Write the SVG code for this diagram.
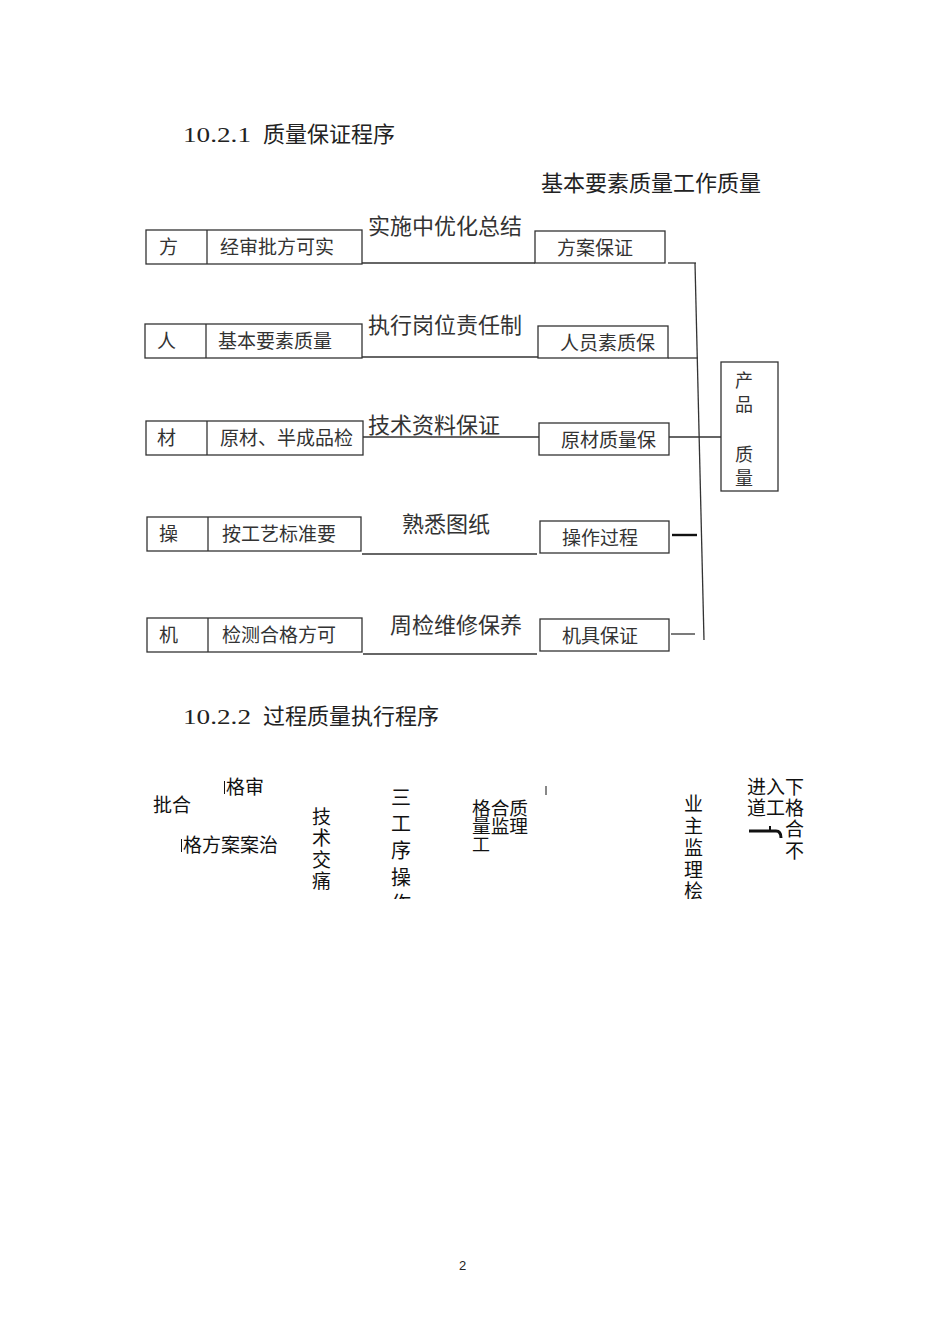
<svg xmlns="http://www.w3.org/2000/svg" width="950" height="1344" viewBox="0 0 950 1344">
<style>
.bg{fill:#ffffff}
.box{fill:#ffffff;stroke:#333333;stroke-width:1.3}
.ln{fill:none;stroke:#333333;stroke-width:1.3}
.thk{fill:none;stroke:#111111;stroke-width:2.4}
.t{font-family:"Liberation Serif","Noto Sans CJK SC",serif;fill:#333333}
.s19{font-size:19px}
.s22{font-size:22px}
.s18{font-size:18px}
.h{font-family:"Liberation Serif","Noto Sans CJK SC",serif;font-size:22px;fill:#222222}
.g{font-family:"Liberation Sans","Noto Sans CJK SC",sans-serif;font-size:19px;fill:#111111}
.g18{font-family:"Liberation Sans","Noto Sans CJK SC",sans-serif;font-size:18px;fill:#111111}
.pn{font-family:"Liberation Sans",sans-serif;font-size:13px;fill:#222222}
</style>
<defs>
<clipPath id="clipLow"><rect x="0" y="740" width="950" height="159"/></clipPath>
</defs>
<rect class="bg" x="0" y="0" width="950" height="1344"/>

<g id="heading1">
<text class="h" x="183" y="142" textLength="68" lengthAdjust="spacingAndGlyphs">10.2.1</text>
<text class="h" x="263" y="142">质量保证程序</text>
</g>
<g id="header-right">
<text class="h" x="541" y="191">基本要素质量工作质量</text>
</g>

<g id="connectors">
<line class="ln" x1="362" y1="263" x2="535" y2="263"/>
<line class="ln" x1="668" y1="263" x2="696" y2="263"/>
<line class="ln" x1="695" y1="263" x2="704" y2="640"/>
<line class="ln" x1="362" y1="357" x2="538" y2="357"/>
<line class="ln" x1="668" y1="358" x2="698" y2="358"/>
<line class="ln" x1="363" y1="437" x2="539" y2="437"/>
<line class="ln" x1="669" y1="437" x2="721" y2="437"/>
<line class="ln" x1="362" y1="554" x2="537" y2="554"/>
<line class="thk" x1="672" y1="535" x2="697" y2="535"/>
<line class="ln" x1="363" y1="654" x2="537" y2="654"/>
<line class="ln" x1="671" y1="634" x2="695" y2="634"/>
</g>

<g id="row1-left">
<rect class="box" x="146" y="230" width="216" height="34"/>
<line class="ln" x1="207" y1="230" x2="207" y2="264"/>
<text class="t s19" x="159" y="254">方</text>
<text class="t s19" x="220" y="254">经审批方可实</text>
</g>
<g id="row1-label"><text class="t s22" x="368" y="234">实施中优化总结</text></g>
<g id="row1-right">
<rect class="box" x="535" y="231" width="130" height="32"/>
<text class="t s19" x="557" y="255">方案保证</text>
</g>

<g id="row2-left">
<rect class="box" x="145" y="324" width="217" height="34"/>
<line class="ln" x1="206" y1="324" x2="206" y2="358"/>
<text class="t s19" x="157" y="348">人</text>
<text class="t s19" x="218" y="348">基本要素质量</text>
</g>
<g id="row2-label"><text class="t s22" x="368" y="333">执行岗位责任制</text></g>
<g id="row2-right">
<rect class="box" x="538" y="326" width="130" height="32"/>
<text class="t s19" x="560" y="350">人员素质保</text>
</g>

<g id="row3-left">
<rect class="box" x="146" y="421" width="217" height="34"/>
<line class="ln" x1="207" y1="421" x2="207" y2="455"/>
<text class="t s19" x="157" y="445">材</text>
<text class="t s19" x="220" y="445">原材、半成品检</text>
</g>
<g id="row3-label"><text class="t s22" x="368" y="433">技术资料保证</text></g>
<g id="row3-right">
<rect class="box" x="539" y="423" width="130" height="32"/>
<text class="t s19" x="561" y="447">原材质量保</text>
</g>

<g id="product-quality">
<rect class="box" x="721" y="362" width="57" height="129"/>
<text class="t s18" x="735" y="387">产</text>
<text class="t s18" x="735" y="411">品</text>
<text class="t s18" x="735" y="461">质</text>
<text class="t s18" x="735" y="485">量</text>
</g>

<g id="row4-left">
<rect class="box" x="147" y="517" width="214" height="34"/>
<line class="ln" x1="208" y1="517" x2="208" y2="551"/>
<text class="t s19" x="159" y="541">操</text>
<text class="t s19" x="222" y="541">按工艺标准要</text>
</g>
<g id="row4-label"><text class="t s22" x="402" y="532">熟悉图纸</text></g>
<g id="row4-right">
<rect class="box" x="540" y="521" width="129" height="32"/>
<text class="t s19" x="562" y="545">操作过程</text>
</g>

<g id="row5-left">
<rect class="box" x="147" y="618" width="215" height="34"/>
<line class="ln" x1="208" y1="618" x2="208" y2="652"/>
<text class="t s19" x="159" y="642">机</text>
<text class="t s19" x="222" y="642">检测合格方可</text>
</g>
<g id="row5-label"><text class="t s22" x="390" y="633">周检维修保养</text></g>
<g id="row5-right">
<rect class="box" x="540" y="619" width="129" height="32"/>
<text class="t s19" x="562" y="643">机具保证</text>
</g>

<g id="heading2">
<text class="h" x="183" y="724" textLength="68" lengthAdjust="spacingAndGlyphs">10.2.2</text>
<text class="h" x="263" y="724">过程质量执行程序</text>
</g>

<g id="process" clip-path="url(#clipLow)">
<g id="p-approve">
<line x1="224.5" y1="781" x2="224.5" y2="794" stroke="#111" stroke-width="1"/>
<text class="g" x="226" y="794">格审</text>
<text class="g" x="153" y="812">批合</text>
<line x1="181.5" y1="839" x2="181.5" y2="852" stroke="#111" stroke-width="1"/>
<text class="g" x="183" y="852">格方案案治</text>
</g>
<g id="p-tech">
<text class="g" x="312" y="824">技</text>
<text class="g" x="312" y="845">术</text>
<text class="g" x="312" y="867">交</text>
<text class="g" x="312" y="888">痛</text>
</g>
<g id="p-process">
<text class="g" x="391" y="805" style="font-size:20px">三</text>
<text class="g" x="391" y="831" style="font-size:20px">工</text>
<text class="g" x="391" y="858" style="font-size:20px">序</text>
<text class="g" x="391" y="885" style="font-size:20px">操</text>
<text class="g" x="391" y="911" style="font-size:20px">作</text>
</g>
<g id="p-quality">
<text class="g18" x="472" y="815" textLength="56" lengthAdjust="spacingAndGlyphs">格合质</text>
<text class="g18" x="472" y="833" textLength="56" lengthAdjust="spacingAndGlyphs">量监理</text>
<text class="g18" x="472" y="851">工</text>
<line x1="546" y1="786" x2="546" y2="795" stroke="#111" stroke-width="1"/>
</g>
<g id="p-owner">
<text class="g" x="684" y="811">业</text>
<text class="g" x="684" y="833">主</text>
<text class="g" x="684" y="855">监</text>
<text class="g" x="684" y="877">理</text>
<text class="g" x="684" y="898">桧</text>
</g>
<g id="p-next">
<text class="g" x="747" y="794">进入下</text>
<text class="g" x="747" y="815">道工格</text>
<text class="g" x="785" y="836">合</text>
<text class="g" x="785" y="858">不</text>
<path d="M749 831 H776 Q781 831 781 838" fill="none" stroke="#111" stroke-width="3"/>
<line x1="770" y1="826" x2="770" y2="831" stroke="#111" stroke-width="2"/>
</g>
</g>

<g id="page-number"><text class="pn" x="459" y="1270">2</text></g>
</svg>
